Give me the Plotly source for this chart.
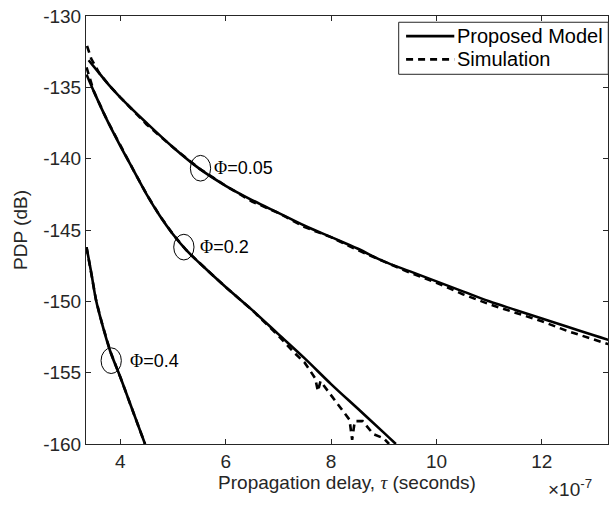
import plotly.graph_objects as go

# ---------------- data (delay in units of 1e-7 s, PDP in dB) ----------------
delay_m005 = [3.40, 3.60, 3.80, 4.00, 4.50, 5.00, 5.50, 6.00, 6.50, 7.00, 7.50, 8.00,
              8.50, 9.00, 9.50, 10.00, 10.50, 11.00, 11.50, 12.00, 12.50, 13.00, 13.26]
pdp_m005 = [-133.1, -134.0, -134.9, -135.7, -137.5, -139.2, -140.7, -141.9, -142.9, -143.8,
            -144.7, -145.5, -146.3, -147.2, -147.9, -148.6, -149.3, -150.0, -150.6, -151.2,
            -151.8, -152.4, -152.7]

delay_s005 = [3.37, 3.45, 3.60, 3.80, 4.00, 4.50, 5.00, 5.50, 6.00, 6.50, 7.00, 7.50, 8.00,
              8.50, 9.00, 9.50, 10.00, 10.50, 11.00, 11.50, 12.00, 12.50, 13.00, 13.26]
pdp_s005 = [-132.1, -133.0, -134.0, -134.9, -135.7, -137.6, -139.2, -140.7, -141.9, -143.0,
            -143.8, -144.8, -145.5, -146.4, -147.2, -148.0, -148.7, -149.5, -150.2, -150.8,
            -151.4, -152.1, -152.7, -153.0]

delay_m02 = [3.36, 3.50, 3.75, 4.00, 4.25, 4.50, 4.75, 5.00, 5.25, 5.50, 6.00, 6.50,
             7.00, 7.50, 8.00, 8.50, 9.00, 9.23]
pdp_m02 = [-134.1, -135.3, -137.3, -139.1, -140.8, -142.5, -144.0, -145.3, -146.4, -147.3,
           -149.0, -150.6, -152.3, -154.0, -155.8, -157.5, -159.2, -160.0]

delay_s02 = [3.36, 3.45, 3.50, 3.75, 4.00, 4.25, 4.50, 4.75, 5.00, 5.25, 5.50, 6.00, 6.50,
             7.00, 7.30, 7.50, 7.70, 7.75, 7.80, 8.00, 8.20, 8.35, 8.40, 8.45, 8.60, 8.80,
             9.00, 9.10]
pdp_s02 = [-133.6, -134.6, -135.3, -137.3, -139.1, -140.8, -142.5, -144.0, -145.3, -146.4,
           -147.3, -149.0, -150.6, -152.4, -153.6, -154.3, -155.4, -156.3, -155.6, -156.6,
           -157.6, -158.3, -159.7, -158.4, -158.4, -159.3, -159.6, -160.0]

delay_m04 = [3.36, 3.45, 3.54, 3.65, 3.81, 4.00, 4.20, 4.47]
pdp_m04 = [-146.2, -148.0, -149.9, -151.5, -153.5, -155.3, -157.3, -160.0]
delay_s04 = delay_m04
pdp_s04 = pdp_m04

x_ticks = [4, 6, 8, 10, 12]
y_ticks = [-160, -155, -150, -145, -140, -135, -130]

phi_labels = ["Φ=0.05", "Φ=0.2", "Φ=0.4"]
phi_centers = [(5.523, -140.67), (5.207, -146.2), (3.828, -154.16)]
phi_text_x = [5.737, 5.475, 4.152]

# ---------------- figure ----------------
W, H = 615, 507
ML, MR, MT, MB = 86, 6, 13, 63
PL, PR, PT, PB = ML, W - MR, MT, H - MB


def pxx(x):
    return (x - PL) / (PR - PL)


def pxy(y):
    return 1 - (y - PT) / (PB - PT)


DASH = "7px,5px"
LW = 2.6

fig = go.Figure()
for xs, ys in [(delay_m005, pdp_m005), (delay_m02, pdp_m02), (delay_m04, pdp_m04)]:
    fig.add_trace(go.Scatter(x=xs, y=ys, mode="lines", line=dict(color="black", width=LW),
                             line_shape="spline", showlegend=False, hoverinfo="skip"))
for xs, ys in [(delay_s005, pdp_s005), (delay_s02, pdp_s02), (delay_s04, pdp_s04)]:
    fig.add_trace(go.Scatter(x=xs, y=ys, mode="lines",
                             line=dict(color="black", width=LW, dash=DASH),
                             showlegend=False, hoverinfo="skip"))

shapes = []
annotations = []
ell_w, ell_h = 0.385, 1.80
for (cx, cy), lab, tx in zip(phi_centers, phi_labels, phi_text_x):
    shapes.append(dict(type="circle", xref="x", yref="y",
                       x0=cx - ell_w / 2, x1=cx + ell_w / 2,
                       y0=cy - ell_h / 2, y1=cy + ell_h / 2,
                       line=dict(color="black", width=1)))
    annotations.append(dict(x=tx, y=cy, xref="x", yref="y", xanchor="left", yanchor="middle",
                            showarrow=False,
                            text="<span style='font-family:Liberation Serif'>Φ</span>" + lab[1:],
                            font=dict(family="Liberation Sans", size=18, color="black")))

# legend (drawn manually to mimic MATLAB box)
shapes.append(dict(type="rect", xref="paper", yref="paper",
                   x0=pxx(399.3), x1=pxx(609.3), y0=pxy(71.7), y1=pxy(19.3),
                   line=dict(color="#262626", width=1), fillcolor="white", layer="above"))
leg_rows = [("Proposed Model", "solid", 33.3), ("Simulation", DASH, 56.7)]
for name, dash, yy in leg_rows:
    shapes.append(dict(type="line", xref="paper", yref="paper",
                       x0=pxx(406.7), x1=pxx(455), y0=pxy(yy), y1=pxy(yy),
                       line=dict(color="black", width=LW, dash=dash), layer="above"))
    annotations.append(dict(x=pxx(456), y=pxy(yy), xref="paper", yref="paper",
                            xanchor="left", yanchor="middle", showarrow=False, text=name,
                            font=dict(family="Liberation Sans", size=20, color="black")))

annotations.append(dict(x=pxx(547), y=pxy(488), xref="paper", yref="paper",
                        xanchor="left", yanchor="middle", showarrow=False,
                        text="×10<sup>-7</sup>",
                        font=dict(family="Liberation Sans", size=19, color="#262626")))

axis_common = dict(showgrid=False, zeroline=False, showline=True, linecolor="#262626",
                   linewidth=1, mirror="ticks", ticks="inside", ticklen=5, tickwidth=1,
                   tickcolor="#262626",
                   tickfont=dict(family="Liberation Sans", size=19, color="#262626"))

fig.update_layout(
    width=W, height=H, autosize=False,
    margin=dict(l=ML, r=MR, t=MT, b=MB, pad=0),
    paper_bgcolor="white", plot_bgcolor="white",
    showlegend=False,
    shapes=shapes, annotations=annotations,
    xaxis=dict(range=[3.35, 13.255], tickvals=x_ticks, ticktext=[str(v) for v in x_ticks],
               title=dict(text="Propagation delay, <span style='font-family:Liberation Serif'><i>τ</i></span> (seconds)",
                          font=dict(family="Liberation Sans", size=19, color="#262626"),
                          standoff=2),
               **axis_common),
    yaxis=dict(range=[-160, -130], tickvals=y_ticks, ticktext=[str(v) for v in y_ticks],
               title=dict(text="PDP (dB)",
                          font=dict(family="Liberation Sans", size=19, color="#262626"),
                          standoff=10),
               **axis_common),
)

fig.write_html("out.html")
